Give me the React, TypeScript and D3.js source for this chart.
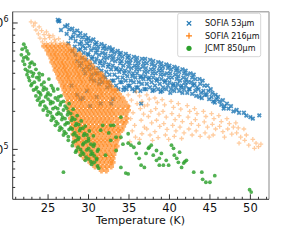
import React from "react";
import * as d3 from "d3";

// [temperature (K), column density]
const sofia53: [number, number][] = [
  [26.2,10.6e5],[26.3,10.3e5],[26.4,10.4e5],[26.6,8.8e5],
  [27.1,9.4e5],[27.4,9.6e5],[27.6,8.9e5],[27.3,8.2e5],[27.8,7.6e5],[27.5,6.9e5],
  [28.0,9.0e5],[28.2,8.4e5],[28.1,7.8e5],[28.4,7.2e5],[28.3,6.5e5],[28.0,6.0e5],[28.4,5.6e5],[28.6,8.7e5],[28.7,7.9e5],[28.9,6.8e5],[28.8,6.1e5],[28.6,5.0e5],[28.9,4.6e5],
  [29.0,8.3e5],[29.2,7.7e5],[29.1,7.1e5],[29.3,6.6e5],[29.0,6.2e5],[29.4,5.8e5],[29.2,5.3e5],[29.1,4.8e5],[29.4,4.3e5],[29.6,8.0e5],[29.7,7.4e5],[29.8,6.9e5],[29.6,6.3e5],[29.9,5.7e5],[29.7,5.1e5],[29.8,4.5e5],[29.6,4.0e5],
  [30.0,7.6e5],[30.2,7.2e5],[30.1,6.6e5],[30.3,6.1e5],[30.0,5.6e5],[30.4,5.2e5],[30.2,4.7e5],[30.1,4.3e5],[30.4,3.9e5],[30.3,3.6e5],[30.6,7.4e5],[30.8,6.8e5],[30.7,6.3e5],[30.9,5.8e5],[30.5,5.4e5],[30.8,4.9e5],[30.6,4.4e5],[30.9,4.0e5],[30.7,3.5e5],
  [31.0,7.0e5],[31.2,6.5e5],[31.1,6.1e5],[31.3,5.6e5],[31.0,5.2e5],[31.4,4.8e5],[31.2,4.4e5],[31.1,4.0e5],[31.4,3.6e5],[31.3,3.3e5],[31.6,6.8e5],[31.8,6.3e5],[31.7,5.8e5],[31.9,5.3e5],[31.5,5.0e5],[31.8,4.6e5],[31.6,4.2e5],[31.9,3.8e5],[31.7,3.4e5],
  [32.0,6.6e5],[32.2,6.2e5],[32.1,5.7e5],[32.3,5.3e5],[32.0,4.9e5],[32.4,4.5e5],[32.2,4.1e5],[32.1,3.7e5],[32.4,3.4e5],[32.3,3.1e5],[32.6,6.4e5],[32.8,6.0e5],[32.7,5.5e5],[32.9,5.1e5],[32.5,4.7e5],[32.8,4.3e5],[32.6,3.9e5],[32.9,3.5e5],[32.7,3.2e5],
  [33.0,6.2e5],[33.2,5.8e5],[33.1,5.4e5],[33.3,5.0e5],[33.0,4.6e5],[33.4,4.3e5],[33.2,3.9e5],[33.1,3.5e5],[33.4,3.2e5],[33.6,6.0e5],[33.8,5.6e5],[33.7,5.2e5],[33.9,4.8e5],[33.5,4.4e5],[33.8,4.1e5],[33.6,3.7e5],[33.9,3.4e5],[33.7,3.0e5],
  [34.0,5.8e5],[34.2,5.4e5],[34.1,5.0e5],[34.3,4.6e5],[34.0,4.3e5],[34.4,4.0e5],[34.2,3.7e5],[34.1,3.4e5],[34.4,3.1e5],[34.3,2.95e5],[34.6,5.7e5],[34.8,5.3e5],[34.7,4.9e5],[34.9,4.5e5],[34.5,4.2e5],[34.8,3.8e5],[34.6,3.5e5],[34.9,3.2e5],[34.7,3.0e5],
  [35.0,5.5e5],[35.2,5.1e5],[35.1,4.8e5],[35.3,4.4e5],[35.0,4.1e5],[35.4,3.8e5],[35.2,3.5e5],[35.1,3.2e5],[35.4,3.0e5],[35.6,5.4e5],[35.8,5.0e5],[35.7,4.6e5],[35.9,4.3e5],[35.5,4.0e5],[35.8,3.7e5],[35.6,3.4e5],[35.9,3.1e5],[35.7,2.9e5],
  [36.0,5.3e5],[36.2,4.9e5],[36.1,4.6e5],[36.3,4.3e5],[36.0,4.0e5],[36.4,3.7e5],[36.2,3.4e5],[36.1,3.1e5],[36.4,2.9e5],[36.6,5.2e5],[36.8,4.8e5],[36.7,4.5e5],[36.9,4.1e5],[36.5,3.8e5],[36.8,3.6e5],[36.6,3.3e5],[36.9,3.0e5],
  [37.0,5.2e5],[37.2,4.8e5],[37.1,4.4e5],[37.3,4.1e5],[37.0,3.8e5],[37.4,3.6e5],[37.2,3.3e5],[37.1,3.0e5],[37.6,5.1e5],[37.8,4.7e5],[37.7,4.3e5],[37.9,4.0e5],[37.5,3.7e5],[37.8,3.4e5],[37.6,3.1e5],[37.9,2.9e5],
  [38.0,5.0e5],[38.2,4.6e5],[38.1,4.3e5],[38.3,4.0e5],[38.0,3.7e5],[38.4,3.5e5],[38.2,3.2e5],[38.1,2.95e5],[38.6,4.9e5],[38.8,4.5e5],[38.7,4.2e5],[38.9,3.9e5],[38.5,3.6e5],[38.8,3.3e5],[38.6,3.0e5],[38.9,2.85e5],
  [39.0,4.8e5],[39.2,4.5e5],[39.1,4.2e5],[39.3,3.9e5],[39.0,3.6e5],[39.4,3.4e5],[39.2,3.1e5],[39.1,2.9e5],[39.6,4.7e5],[39.8,4.4e5],[39.7,4.0e5],[39.9,3.7e5],[39.5,3.5e5],[39.8,3.2e5],[39.6,3.0e5],
  [40.0,4.6e5],[40.2,4.3e5],[40.1,4.0e5],[40.3,3.7e5],[40.0,3.4e5],[40.4,3.2e5],[40.2,3.0e5],[40.1,2.8e5],[40.6,4.5e5],[40.8,4.2e5],[40.7,3.9e5],[40.9,3.6e5],[40.5,3.3e5],[40.8,3.1e5],[40.6,2.9e5],
  [41.0,4.4e5],[41.2,4.1e5],[41.1,3.8e5],[41.3,3.5e5],[41.0,3.3e5],[41.4,3.1e5],[41.2,2.9e5],[41.6,4.3e5],[41.8,4.0e5],[41.7,3.7e5],[41.9,3.4e5],[41.5,3.2e5],[41.8,3.0e5],[41.6,2.8e5],
  [42.0,4.2e5],[42.2,3.9e5],[42.1,3.6e5],[42.3,3.4e5],[42.0,3.2e5],[42.4,3.0e5],[42.2,2.8e5],[42.6,4.0e5],[42.8,3.7e5],[42.7,3.4e5],[42.9,3.2e5],[42.5,3.0e5],[42.8,2.75e5],
  [43.0,3.9e5],[43.2,3.6e5],[43.1,3.3e5],[43.4,3.1e5],[43.2,2.9e5],[43.3,2.65e5],[43.7,3.6e5],[43.8,3.3e5],[43.6,3.0e5],[43.9,2.8e5],[43.7,2.6e5],
  [44.1,3.5e5],[44.3,3.2e5],[44.2,2.9e5],[44.4,2.7e5],[44.0,2.55e5],[44.7,3.2e5],[44.8,2.9e5],[44.6,2.7e5],[44.9,2.5e5],
  [45.1,3.0e5],[45.3,2.8e5],[45.2,2.6e5],[45.4,2.4e5],[45.7,2.7e5],[45.8,2.5e5],[45.6,2.35e5],
  [46.0,2.6e5],[46.2,2.4e5],[46.4,2.25e5],[46.6,2.45e5],[46.8,2.2e5],[46.7,2.1e5],
  [47.1,2.3e5],[47.3,2.1e5],[47.6,2.2e5],[47.9,2.0e5],
  [48.3,2.05e5],[48.6,1.95e5],[49.2,1.95e5],[49.5,1.85e5],[50.0,1.8e5],[50.3,1.75e5],[51.1,1.86e5],
  [28.6,2.7e5],[29.0,2.5e5],[29.3,2.55e5],[30.2,2.2e5],[31.5,2.3e5],[29.8,2.9e5],[31.0,2.6e5],[27.9,3.2e5],[33.0,2.5e5],[32.8,2.3e5],[36.5,2.3e5],
];

// dense part of the SOFIA 216um cloud: [column density, temperatures]
const sofia216Core: [number, number[]][] = [
  [6.57e5, [24.5, 25.0, 25.5, 26.0, 26.5, 27.0, 27.5]],
  [6.11e5, [24.9, 25.4, 25.9, 26.4, 26.9, 27.4, 27.8, 28.2]],
  [5.68e5, [25.1, 25.6, 26.0, 26.5, 27.0, 27.4, 27.9, 28.4, 28.9]],
  [5.28e5, [25.4, 25.9, 26.3, 26.8, 27.3, 27.7, 28.2, 28.7, 29.1, 29.5]],
  [4.9e5, [25.5, 26.0, 26.5, 26.9, 27.4, 27.9, 28.3, 28.8, 29.3, 29.7, 30.1]],
  [4.56e5, [25.8, 26.3, 26.8, 27.2, 27.7, 28.2, 28.6, 29.1, 29.6, 30.0, 30.5]],
  [4.24e5, [25.9, 26.4, 26.9, 27.3, 27.8, 28.3, 28.7, 29.2, 29.7, 30.1, 30.6, 31.0]],
  [3.94e5, [26.2, 26.7, 27.2, 27.6, 28.1, 28.6, 29.0, 29.5, 30.0, 30.4, 30.9, 31.3, 31.6]],
  [3.66e5, [26.3, 26.8, 27.3, 27.7, 28.2, 28.7, 29.1, 29.6, 30.1, 30.5, 31.0, 31.5, 31.9]],
  [3.4e5, [26.6, 27.1, 27.6, 28.0, 28.5, 29.0, 29.4, 29.9, 30.4, 30.8, 31.3, 31.8, 32.2, 32.5]],
  [3.16e5, [26.8, 27.2, 27.7, 28.2, 28.6, 29.1, 29.6, 30.0, 30.5, 31.0, 31.4, 31.9, 32.4, 32.8]],
  [2.94e5, [27.0, 27.5, 28.0, 28.5, 28.9, 29.4, 29.9, 30.3, 30.8, 31.3, 31.7, 32.2, 32.7, 33.1, 33.4]],
  [2.73e5, [27.1, 27.6, 28.1, 28.5, 29.0, 29.5, 30.0, 30.4, 30.9, 31.4, 31.8, 32.3, 32.8, 33.3, 33.8]],
  [2.54e5, [27.4, 27.9, 28.4, 28.8, 29.3, 29.8, 30.3, 30.7, 31.2, 31.7, 32.2, 32.7, 33.2, 33.7, 34.2]],
  [2.36e5, [27.4, 27.9, 28.4, 28.9, 29.3, 29.8, 30.3, 30.8, 31.2, 31.7, 32.2, 32.7, 33.3, 33.9, 34.5]],
  [2.19e5, [27.6, 28.1, 28.6, 29.1, 29.6, 30.1, 30.6, 31.1, 31.5, 32.0, 32.5, 33.0, 33.6, 34.2, 34.8]],
  [2.04e5, [27.6, 28.1, 28.6, 29.1, 29.6, 30.1, 30.6, 31.1, 31.6, 32.1, 32.6, 33.1, 33.7, 34.3, 34.9]],
  [1.9e5, [27.9, 28.4, 28.9, 29.4, 29.9, 30.4, 30.9, 31.4, 31.9, 32.4, 32.9, 33.4, 34.0, 34.6]],
  [1.76e5, [27.8, 28.3, 28.8, 29.3, 29.8, 30.3, 30.8, 31.3, 31.8, 32.3, 32.8, 33.4, 34.0, 34.7]],
  [1.64e5, [28.0, 28.5, 29.0, 29.5, 30.0, 30.5, 31.0, 31.5, 32.0, 32.5, 33.0, 33.6, 34.2, 34.6]],
  [1.52e5, [28.0, 28.5, 29.0, 29.5, 30.0, 30.5, 31.0, 31.5, 32.0, 32.5, 33.0, 33.6, 34.3]],
  [1.42e5, [28.2, 28.7, 29.2, 29.7, 30.2, 30.7, 31.2, 31.7, 32.2, 32.7, 33.2, 33.7, 34.1]],
  [1.32e5, [28.1, 28.6, 29.1, 29.6, 30.1, 30.6, 31.1, 31.6, 32.1, 32.6, 33.1, 33.7]],
  [1.22e5, [28.3, 28.8, 29.3, 29.8, 30.3, 30.8, 31.3, 31.8, 32.3, 32.8, 33.3, 33.7]],
  [1.14e5, [28.3, 28.8, 29.3, 29.8, 30.3, 30.8, 31.3, 31.8, 32.3, 32.8, 33.4]],
  [1.06e5, [28.6, 29.1, 29.6, 30.1, 30.6, 31.1, 31.6, 32.1, 32.6, 33.1, 33.5]],
  [9.8e4, [28.8, 29.3, 29.8, 30.3, 30.8, 31.3, 31.8, 32.3, 32.8, 33.3]],
  [9.1e4, [29.1, 29.6, 30.1, 30.6, 31.1, 31.6, 32.1, 32.6, 33.1]],
  [8.5e4, [29.5, 30.0, 30.5, 31.0, 31.5, 32.0, 32.5, 33.0]],
  [7.9e4, [30.2, 30.7, 31.2, 31.7, 32.2, 32.7, 33.0]],
  [7.3e4, [30.8, 31.3, 31.8, 32.3, 32.8]],
  [6.8e4, [31.6, 32.2]],
];

// sparse parts of the SOFIA 216um cloud: cold tip and warm tail
const sofia216Sparse: [number, number][] = [
  [22.9,1.02e6],[23.4,1.0e6],[23.2,9.5e5],[23.9,9.3e5],[23.5,8.8e5],[24.2,8.7e5],[24.8,8.5e5],
  [23.8,8.2e5],[24.5,8.1e5],[25.1,8.0e5],[25.6,7.9e5],[24.0,7.6e5],[24.6,7.5e5],[25.2,7.65e5],[25.8,7.4e5],[26.3,7.5e5],
  [24.3,7.1e5],[24.8,6.9e5],[25.4,7.0e5],[25.9,7.05e5],[26.5,6.9e5],[26.9,7.0e5],[27.3,6.8e5],
  [34.9,2.7e5],[35.3,2.45e5],[35.0,2.2e5],[35.5,1.95e5],[35.2,1.75e5],[35.7,1.55e5],[35.4,1.4e5],[35.8,1.25e5],[35.1,1.15e5],[35.9,2.85e5],[36.0,2.3e5],
  [36.3,2.65e5],[36.6,2.4e5],[36.4,2.1e5],[36.8,1.9e5],[36.5,1.7e5],[36.9,1.5e5],[36.6,1.33e5],[36.3,1.2e5],[36.9,2.2e5],
  [37.2,2.7e5],[37.5,2.5e5],[37.3,2.25e5],[37.7,2.0e5],[37.4,1.82e5],[37.8,1.62e5],[37.2,1.45e5],[37.6,1.3e5],[37.9,1.18e5],
  [38.2,2.55e5],[38.5,2.35e5],[38.3,2.1e5],[38.7,1.9e5],[38.4,1.7e5],[38.8,1.52e5],[38.2,1.38e5],[38.6,1.24e5],
  [39.1,2.48e5],[39.4,2.25e5],[39.2,2.0e5],[39.6,1.8e5],[39.3,1.6e5],[39.7,1.44e5],[39.5,1.3e5],[39.9,1.2e5],
  [40.2,2.4e5],[40.5,2.15e5],[40.3,1.92e5],[40.7,1.72e5],[40.4,1.55e5],[40.8,1.4e5],[40.6,1.27e5],
  [41.1,2.3e5],[41.4,2.08e5],[41.2,1.85e5],[41.6,1.66e5],[41.3,1.5e5],[41.8,1.35e5],[41.5,1.22e5],
  [42.2,2.22e5],[42.5,2.0e5],[42.3,1.8e5],[42.7,1.6e5],[42.4,1.45e5],[42.8,1.3e5],
  [43.1,2.1e5],[43.4,1.92e5],[43.2,1.72e5],[43.6,1.55e5],[43.3,1.4e5],[43.8,1.27e5],
  [44.2,2.0e5],[44.5,1.82e5],[44.3,1.65e5],[44.7,1.5e5],[44.4,1.35e5],[44.9,1.25e5],
  [45.2,1.92e5],[45.5,1.75e5],[45.3,1.58e5],[45.7,1.45e5],[45.4,1.3e5],
  [46.1,1.85e5],[46.4,1.66e5],[46.2,1.52e5],[46.6,1.38e5],[46.8,1.25e5],
  [47.1,1.75e5],[47.4,1.6e5],[47.2,1.45e5],[47.7,1.32e5],[47.9,1.5e5],
  [48.2,1.62e5],[48.5,1.48e5],[48.3,1.35e5],[48.8,1.25e5],[48.6,1.12e5],
  [49.2,1.45e5],[49.5,1.3e5],[49.3,1.18e5],[49.8,1.08e5],
  [50.3,1.2e5],[50.7,1.12e5],[51.0,1.05e5],[51.3,1.1e5],[50.5,1.02e5],
];

const jcmt850: [number, number][] = [
  [22.0,6.8e5],[21.8,6.2e5],[22.4,6.0e5],[21.7,5.6e5],[22.3,5.4e5],[22.6,5.7e5],[21.9,5.0e5],[22.5,5.2e5],[23.0,4.9e5],[22.1,4.7e5],[22.7,4.5e5],[23.3,4.7e5],
  [22.2,4.3e5],[22.9,4.1e5],[23.5,4.3e5],[23.9,4.0e5],[22.4,3.9e5],[23.1,3.8e5],[23.6,3.7e5],[24.3,3.9e5],[22.7,3.5e5],[23.3,3.4e5],[23.9,3.55e5],[24.5,3.4e5],[25.1,3.6e5],
  [22.9,3.2e5],[23.6,3.1e5],[24.2,3.25e5],[24.8,3.0e5],[25.4,3.2e5],[23.2,2.95e5],[23.8,2.85e5],[24.4,2.95e5],[25.0,2.8e5],[25.7,2.9e5],[26.2,3.0e5],
  [23.5,2.65e5],[24.1,2.7e5],[24.7,2.6e5],[25.3,2.7e5],[25.9,2.55e5],[26.6,2.65e5],[23.7,2.45e5],[24.4,2.4e5],[25.0,2.5e5],[25.6,2.35e5],[26.2,2.45e5],[26.9,2.4e5],
  [24.0,2.25e5],[24.6,2.2e5],[25.3,2.3e5],[25.9,2.15e5],[26.5,2.25e5],[27.1,2.2e5],[27.6,2.3e5],[24.4,2.05e5],[25.0,2.0e5],[25.6,2.1e5],[26.3,1.95e5],[26.9,2.05e5],[27.5,1.98e5],[28.1,2.08e5],
  [24.9,1.87e5],[25.5,1.82e5],[26.1,1.9e5],[26.8,1.8e5],[27.4,1.88e5],[28.0,1.78e5],[28.6,1.85e5],[25.4,1.7e5],[26.0,1.66e5],[26.7,1.72e5],[27.3,1.62e5],[27.9,1.7e5],[28.5,1.6e5],[29.1,1.68e5],
  [25.9,1.55e5],[26.5,1.5e5],[27.1,1.57e5],[27.8,1.48e5],[28.4,1.55e5],[29.0,1.46e5],[29.6,1.53e5],[26.4,1.42e5],[27.0,1.38e5],[27.6,1.44e5],[28.3,1.35e5],[28.9,1.41e5],[29.5,1.33e5],[30.1,1.4e5],
  [26.9,1.3e5],[27.5,1.26e5],[28.1,1.31e5],[28.8,1.24e5],[29.4,1.29e5],[30.0,1.22e5],[30.6,1.28e5],[27.5,1.18e5],[28.1,1.14e5],[28.7,1.2e5],[29.4,1.12e5],[30.0,1.17e5],[30.7,1.1e5],
  [28.0,1.07e5],[28.7,1.04e5],[29.3,1.09e5],[30.0,1.02e5],[30.6,1.06e5],[31.2,1.0e5],[28.5,0.98e5],[29.2,0.95e5],[29.8,0.99e5],[30.5,0.93e5],[31.1,0.97e5],
  [29.0,0.9e5],[29.7,0.87e5],[30.3,0.91e5],[31.0,0.85e5],[29.6,0.82e5],[30.3,0.8e5],[31.0,0.83e5],[30.4,0.76e5],[31.1,0.74e5],
  [22.2,6.4e5],[22.0,5.3e5],[22.8,4.8e5],[22.5,4.15e5],[23.2,4.0e5],[22.6,3.7e5],[23.9,3.75e5],[23.0,3.3e5],[24.5,3.1e5],[23.5,3.0e5],[24.0,2.8e5],[25.6,3.05e5],
  [23.9,2.55e5],[24.9,2.7e5],[26.3,2.6e5],[24.1,2.35e5],[25.3,2.4e5],[26.6,2.35e5],[24.8,2.12e5],[26.2,2.1e5],[27.3,2.12e5],[25.3,1.95e5],[26.6,1.9e5],[27.8,1.92e5],
  [25.7,1.76e5],[27.1,1.75e5],[28.3,1.73e5],[26.2,1.6e5],[27.5,1.62e5],[28.8,1.57e5],[26.7,1.46e5],[28.0,1.45e5],[29.3,1.47e5],[27.2,1.34e5],[28.5,1.28e5],[29.8,1.3e5],
  [28.4,1.17e5],[29.7,1.15e5],[30.3,1.1e5],[29.0,1.0e5],[30.3,0.97e5],[29.4,0.92e5],[30.7,0.89e5],[30.0,0.84e5],[30.7,0.79e5],
  [26.9,0.66e5],[28.4,0.95e5],
  [31.5,1.42e5],[32.75,1.18e5],[34.0,1.25e5],[34.9,1.33e5],[35.6,1.04e5],[31.25,0.71e5],[34.0,0.72e5],[34.6,0.65e5],[32.1,0.9e5],[33.4,0.98e5],[32.75,1.55e5],
  [34.0,1.8e5],[33.1,1.55e5],[31.75,1.55e5],[32.5,1.35e5],[33.4,1.25e5],[34.25,1.1e5],[34.9,1.12e5],[35.25,1.08e5],[36.25,1.12e5],[35.9,0.93e5],[36.25,0.85e5],
  [37.5,1.04e5],[37.75,1.08e5],[38.4,0.98e5],[39.25,0.75e5],[38.75,0.75e5],[39.9,0.75e5],[40.9,0.85e5],[41.25,0.95e5],[41.9,0.8e5],[34.9,0.64e5],
  [36.5,0.75e5],[36.9,0.72e5],[37.4,1.02e5],[37.1,0.93e5],[38.0,0.9e5],[38.4,0.82e5],[38.75,0.85e5],[39.0,0.93e5],[39.6,0.82e5],[40.25,1.08e5],[40.5,1.02e5],[40.6,0.9e5],
  [41.1,0.79e5],[41.75,0.78e5],[42.1,0.82e5],[41.5,0.72e5],[43.0,0.66e5],[44.0,0.66e5],[44.1,0.58e5],[44.5,0.55e5],[45.0,0.55e5],[45.6,0.62e5],[49.9,0.48e5],[50.1,0.46e5],
];

const seriesNames = ["SOFIA 53\u03bcm", "SOFIA 216\u03bcm", "JCMT 850\u03bcm"];
const seriesColors = ["#1f77b4", "#ff7f0e", "#2ca02c"];
const xTicks = [25, 30, 35, 40, 45, 50];
const yDecades = [1e5, 1e6];

const W = 281;
const H = 240;
const font = "DejaVu Sans, sans-serif";

const x = d3.scaleLinear().domain([20.63, 52.3]).range([12.7, 269]);
const y = d3.scaleLog().domain([4.03e4, 1.228e6]).range([199.3, 11.7]);

const xMinor = d3.range(21, 53).filter((t) => !xTicks.includes(t));
const yMinor = y.ticks(20).filter((v) => !yDecades.includes(v));

const crossPath = (s: number) => `M${-s},${-s}L${s},${s}M${-s},${s}L${s},${-s}`;
const plusPath = (s: number) => `M${-s},0H${s}M0,${-s}V${s}`;

const corePoints: [number, number][] = sofia216Core.flatMap(([n, ts]) =>
  ts.map((t) => [t, n] as [number, number])
);

export default function App() {
  const [x0, x1] = x.range();
  const [y0, y1] = y.range();
  return (
    <svg
      width={W}
      height={H}
      style={{ position: "absolute", left: 0, top: 0, background: "#fff" }}
      fontFamily={font}
    >
      <defs>
        <clipPath id="plot">
          <rect x={x0} y={y1} width={x1 - x0} height={y0 - y1} />
        </clipPath>
      </defs>

      <g clipPath="url(#plot)">
        {sofia53.map(([t, n], i) => (
          <path
            key={"b" + i}
            d={crossPath(1.8)}
            transform={`translate(${x(t)},${y(n)})`}
            stroke={seriesColors[0]}
            strokeWidth={1.7}
            strokeOpacity={0.8}
            fill="none"
          />
        ))}
        {sofia216Sparse.map(([t, n], i) => (
          <path
            key={"ot" + i}
            d={plusPath(2.3)}
            transform={`translate(${x(t)},${y(n)})`}
            stroke={seriesColors[1]}
            strokeWidth={1.3}
            strokeOpacity={0.4}
            fill="none"
          />
        ))}
        {corePoints.map(([t, n], i) => (
          <path
            key={"oc" + i}
            d={plusPath(2.8)}
            transform={`translate(${x(t)},${y(n)})`}
            stroke={seriesColors[1]}
            strokeWidth={2.7}
            strokeOpacity={0.62}
            fill="none"
          />
        ))}
        {jcmt850.map(([t, n], i) => (
          <circle
            key={"g" + i}
            cx={x(t)}
            cy={y(n)}
            r={1.9}
            fill={seriesColors[2]}
            fillOpacity={0.82}
          />
        ))}
      </g>

      {/* frame */}
      <line x1={x0} x2={x1} y1={y1} y2={y1} stroke="#b0b0b0" strokeWidth={1.5} />
      <line x1={x1} x2={x1} y1={y1} y2={y0} stroke="#b0b0b0" strokeWidth={1.5} />
      <line x1={x0} x2={x0} y1={y1} y2={y0} stroke="#333" strokeWidth={1} />
      <line x1={x0} x2={x1} y1={y0} y2={y0} stroke="#333" strokeWidth={1} />

      {/* x ticks, pointing inward */}
      {xTicks.map((t) => (
        <g key={"xt" + t}>
          <line x1={x(t)} x2={x(t)} y1={y0} y2={y0 - 5} stroke="#333" />
          <text x={x(t)} y={y0 + 13} fontSize={11.5} textAnchor="middle" fill="#111">
            {t}
          </text>
        </g>
      ))}
      {xMinor.map((t) => (
        <line key={"xm" + t} x1={x(t)} x2={x(t)} y1={y0} y2={y0 - 2.5} stroke="#333" />
      ))}

      {/* y ticks */}
      {yDecades.map((v) => (
        <g key={"yt" + v}>
          <line x1={x0} x2={x0 + 5} y1={y(v)} y2={y(v)} stroke="#333" />
          <text x={8.5} y={y(v) + 4.5} fontSize={11.5} textAnchor="end" fill="#111">
            10
            <tspan dy={-5} fontSize={8}>
              {Math.round(Math.log10(v))}
            </tspan>
          </text>
        </g>
      ))}
      {yMinor.map((v) => (
        <line key={"ym" + v} x1={x0} x2={x0 + 2.5} y1={y(v)} y2={y(v)} stroke="#333" />
      ))}

      <text x={140.5} y={224} fontSize={11} textAnchor="middle" fill="#111">
        Temperature (K)
      </text>

      {/* legend */}
      <rect x={177.7} y={13.3} width={83} height={43.4} rx={2} fill="#fff" fillOpacity={0.85} stroke="#cccccc" strokeWidth={0.8} />
      {seriesNames.map((name, i) => {
        const cy = 23.3 + i * 12.5;
        return (
          <g key={name}>
            {i === 0 && (
              <path d={crossPath(2.2)} transform={`translate(189,${cy})`} stroke={seriesColors[0]} strokeWidth={1.2} fill="none" />
            )}
            {i === 1 && (
              <path d={plusPath(3)} transform={`translate(189,${cy})`} stroke={seriesColors[1]} strokeWidth={1.2} fill="none" />
            )}
            {i === 2 && <circle cx={189} cy={cy} r={2.6} fill={seriesColors[2]} />}
            <text x={205} y={cy + 3} fontSize={8} fill="#111">
              {name}
            </text>
          </g>
        );
      })}
    </svg>
  );
}
